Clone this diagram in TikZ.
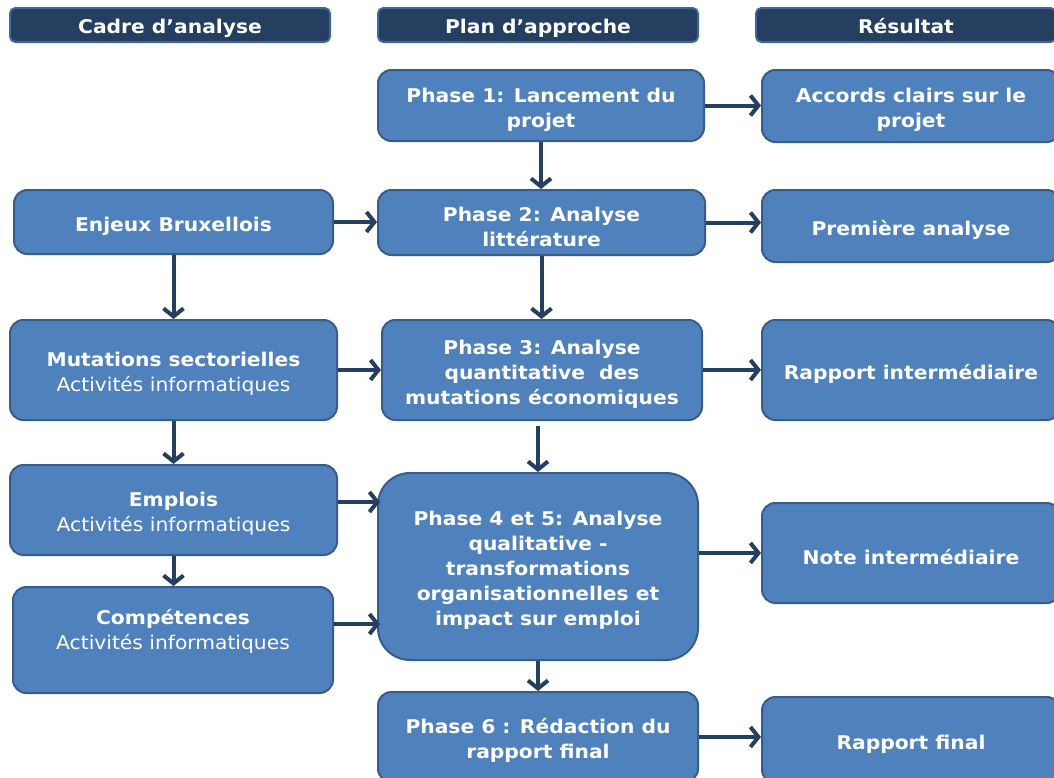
\documentclass[tikz,border=0pt]{standalone}
\usepackage{fontspec}
\setmainfont{DejaVu Sans}[FakeStretch=1.07]
\usetikzlibrary{arrows.meta,calc}
\definecolor{boxfill}{HTML}{4F81BD}
\definecolor{boxline}{HTML}{385D8A}
\definecolor{navy}{HTML}{243F60}
\definecolor{hdrline}{HTML}{41679A}
\newcommand{\topst}{\rule{0pt}{16.8pt}}
\begin{document}
\begin{tikzpicture}[x=0.75pt,y=-0.75pt,
  box/.style={draw=boxline, line width=1.5pt, fill=boxfill, rounded corners=10pt,
    text=white, align=center, inner sep=0pt,
    font=\bfseries\fontsize{14.2}{18.75}\selectfont},
  sz/.style 2 args={minimum width=#1*0.75pt, minimum height=#2*0.75pt},
  hdr/.style={draw=hdrline, line width=1.5pt, fill=navy, rounded corners=4pt,
    text=white, align=center, inner sep=0pt, text height=14pt, text depth=2pt,
    font=\bfseries\fontsize{14.2}{16}\selectfont},
  arr/.style={draw=navy, line width=3pt, -{Straight Barb[length=6pt,width=15pt]}}]
\useasboundingbox (0,0) rectangle (1054,778);
\fill[white] (0,0) rectangle (1054,778);
% headers
\node[hdr, sz={320}{34}] (h1) at (170,25) {Cadre d’analyse};
\node[hdr, sz={320}{34}] (h2) at (538,25) {Plan d’approche};
\node[hdr, sz={300}{34}] (h3) at (906,25) {Résultat};
% middle column
\node[box, sz={326}{71}] (p1) at (541,105.5) {\topst Phase 1: Lancement du\\projet};
\node[box, sz={327}{65}] (p2) at (541.5,222.5) {\topst Phase 2: Analyse\\littérature};
\node[box, sz={320}{100}] (p3) at (542,370) {\topst Phase 3: Analyse\\quantitative~ des\\mutations économiques};
\node[box, sz={320}{187}, rounded corners=24pt] (p4) at (538,566.5) {\topst Phase 4 et 5: Analyse\\qualitative -\\transformations\\organisationnelles et\\impact sur emploi};
\node[box, sz={320}{90}] (p6) at (538,737) {\topst Phase 6 : Rédaction du\\rapport final};
% left column
\node[box, sz={319}{64}] (e1) at (173.5,222) {\topst Enjeux Bruxellois};
\node[box, sz={327}{100}] (m1) at (173.5,370) {\topst{\bfseries Mutations sectorielles}\\{\mdseries Activités informatiques}};
\node[box, sz={327}{90}] (em) at (173.5,510) {\topst{\bfseries Emplois}\\{\mdseries Activités informatiques}};
\node[box, sz={320}{106}, text depth=22pt] (c1) at (173,640) {\topst{\bfseries Compétences}\\{\mdseries Activités informatiques}};
% right column
\node[box, sz={298}{72}] (r1) at (911,106) {\topst Accords clairs sur le\\projet};
\node[box, sz={298}{72}] (r2) at (911,226) {\topst Première analyse};
\node[box, sz={298}{100}] (r3) at (911,370) {\topst Rapport intermédiaire};
\node[box, sz={298}{100}] (r4) at (911,553) {\topst Note intermédiaire};
\node[box, sz={298}{86}] (r5) at (911,740) {\topst Rapport final};
% arrows
\draw[arr] (p1.east) -- (p1.east -| r1.west);
\draw[arr] (p1.south) -- (p1.south |- p2.north);
\draw[arr] (e1.east) -- (e1.east -| p2.west);
\draw[arr] (p2.east) -- (p2.east -| r2.west);
\draw[arr] (p2.south) -- (p2.south |- p3.north);
\draw[arr] (e1.south) -- (e1.south |- m1.north);
\draw[arr] (m1.east) -- (m1.east -| p3.west);
\draw[arr] (p3.east) -- (p3.east -| r3.west);
\draw[arr] ($(p3.south -| p4.north)+(0,5)$) -- (p4.north);
\draw[arr] (m1.south) -- (m1.south |- em.north);
\draw[arr] ($(em.east)+(0,-8)$) -- ($(em.east -| p4.west)+(3,-8)$);
\draw[arr] ($(c1.east)+(0,-16)$) -- ($(c1.east -| p4.west)+(3,-16)$);
\draw[arr] (em.south) -- (em.south |- c1.north);
\draw[arr] (p4.east |- r4.west) -- (r4.west);
\draw[arr] (p4.south) -- (p4.south |- p6.north);
\draw[arr] (p6.east) -- (p6.east -| r5.west);
\end{tikzpicture}
\end{document}
